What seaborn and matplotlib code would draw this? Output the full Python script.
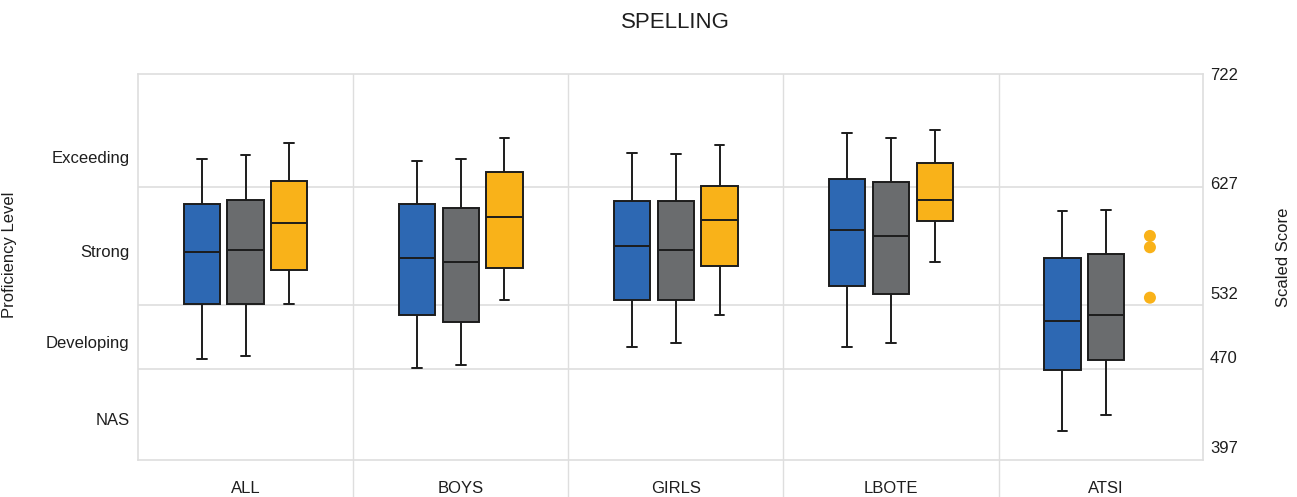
import numpy as np
import pandas as pd
import matplotlib
matplotlib.use("Agg")
import matplotlib.pyplot as plt
from matplotlib.transforms import ScaledTranslation
import seaborn as sns

# ---------------- data ----------------
groups = ["ALL", "BOYS", "GIRLS", "LBOTE", "ATSI"]
series = ["School", "Similar schools", "State"]

# five-number summaries per group: [low whisker, Q1, median, Q3, high whisker]
school = [
    [479.4, 533.0, 574.9, 613.3, 650.5],
    [470.7, 522.6, 570.1, 613.1, 648.9],
    [491.6, 535.8, 579.5, 615.7, 655.6],
    [491.6, 547.5, 592.4, 634.0, 672.4],
    [420.5, 469.0, 516.5, 569.8, 607.9],
]
similar = [
    [482.9, 533.0, 576.3, 616.3, 653.9],
    [474.2, 515.8, 566.4, 609.9, 650.8],
    [494.9, 535.8, 576.3, 615.7, 654.5],
    [494.9, 540.9, 587.6, 631.2, 667.9],
    [433.1, 479.0, 522.6, 573.1, 608.7],
]
state = [
    [533.0, 559.9, 598.0, 632.0, 663.7],
    [535.8, 561.5, 602.6, 639.4, 668.4],
    [522.3, 563.6, 600.7, 627.6, 662.6],
    [566.6, 599.6, 616.5, 646.9, 674.9],
    None,
]
atsi_state_points = [587.6, 578.5, 537.9]

score_ticks = [397, 470, 532, 627, 722]
level_names = ["NAS", "Developing", "Strong", "Exceeding"]
level_label_pos = [430, 496, 575.5, 652]

# ---------------- layout / style ----------------
colors = {"School": "#2d68b3", "Similar schools": "#6a6c6e", "State": "#f9b219"}
edge = "#1c1c1c"
grid_c = "#dedede"
txt_c = "#1e1e1e"
FONT = "Liberation Sans"

# piecewise scale: band boundaries at fixed heights (pixels from bottom)
knot_px = [0, 91, 155, 273, 386]
def fwd(v):
    return np.interp(v, score_ticks, knot_px)
def inv(p):
    return np.interp(p, knot_px, score_ticks)

rows = []
for sname, arr in zip(series, [school, similar, state]):
    for g, five in zip(groups, arr):
        if five is None:
            continue
        for v in five:
            rows.append({"group": g, "series": sname, "score": v})
df = pd.DataFrame(rows)

sns.set_style("white")
plt.rcParams["font.family"] = [FONT, "DejaVu Sans"]

fig = plt.figure(figsize=(12.97, 4.97), dpi=100)
ax = fig.add_axes([138 / 1297, 37 / 497, 1065 / 1297, 386 / 497])
ax.set_yscale("function", functions=(fwd, inv))

box_width = 0.61
common = dict(data=df, x="group", y="score", hue="series", order=groups,
              hue_order=series, palette=colors, width=box_width, gap=0.17,
              whis=(0, 100), saturation=1, linecolor=edge, linewidth=1.4,
              legend=False, ax=ax, zorder=3)
try:
    sns.boxplot(capwidths=0.045, **common)
except TypeError:
    ax.cla()
    ax.set_yscale("function", functions=(fwd, inv))
    sns.boxplot(**common)

# ATSI state values shown as individual points at the State dodge slot
slot = box_width / len(series)
atsi_x = groups.index("ATSI") + slot * (series.index("State") - 1)
sns.scatterplot(x=[atsi_x] * len(atsi_state_points), y=atsi_state_points,
                color=colors["State"], s=75, edgecolor="none", ax=ax,
                legend=False, zorder=4)

ax.set_xlim(-0.5, 4.45)
ax.set_ylim(score_ticks[0], score_ticks[-1])

# grid: band boundaries and group dividers
for v in score_ticks[1:-1]:
    ax.axhline(v, color=grid_c, lw=1.2, zorder=1)
for i in range(len(groups) - 1):
    ax.axvline(i + 0.5, ymin=-0.1, ymax=1, color=grid_c, lw=1.0,
               zorder=1, clip_on=False)
for sp in ax.spines.values():
    sp.set_visible(True)
    sp.set_color(grid_c)
    sp.set_linewidth(1.2)

# left: proficiency levels
ax.set_yticks(level_label_pos)
ax.set_yticklabels(level_names)
ax.tick_params(axis="y", length=0, pad=6, labelsize=12, labelcolor=txt_c)
ax.tick_params(axis="x", length=0, pad=15, labelsize=12, labelcolor=txt_c)
ax.set_xlabel("")
ax.set_ylabel("Proficiency Level", fontsize=12, color=txt_c)
ax.yaxis.set_label_coords(-0.1136, 0.531)

# right: scaled score
ax2 = ax.twinx()
ax2.set_yscale("function", functions=(fwd, inv))
ax2.set_ylim(score_ticks[0], score_ticks[-1])
ax2.set_yticks(score_ticks)
ax2.set_yticklabels([str(t) for t in score_ticks])
ax2.tick_params(axis="y", length=0, pad=5, labelsize=12, labelcolor=txt_c)
for sp in ax2.spines.values():
    sp.set_visible(False)
ax2.set_ylabel("Scaled Score", fontsize=12, color=txt_c)
ax2.yaxis.set_label_coords(1.0686, 0.526)
label_dy_px = [13, 12, 12, 4, 0]
for lab, dy in zip(ax2.get_yticklabels(), label_dy_px):
    lab.set_transform(lab.get_transform() +
                      ScaledTranslation(0, dy / 100, fig.dpi_scale_trans))

fig.text(675 / 1297, 1 - 22 / 497, "SPELLING", ha="center", va="center",
         fontsize=16, color=txt_c)

fig.savefig("out.png", dpi=100)
